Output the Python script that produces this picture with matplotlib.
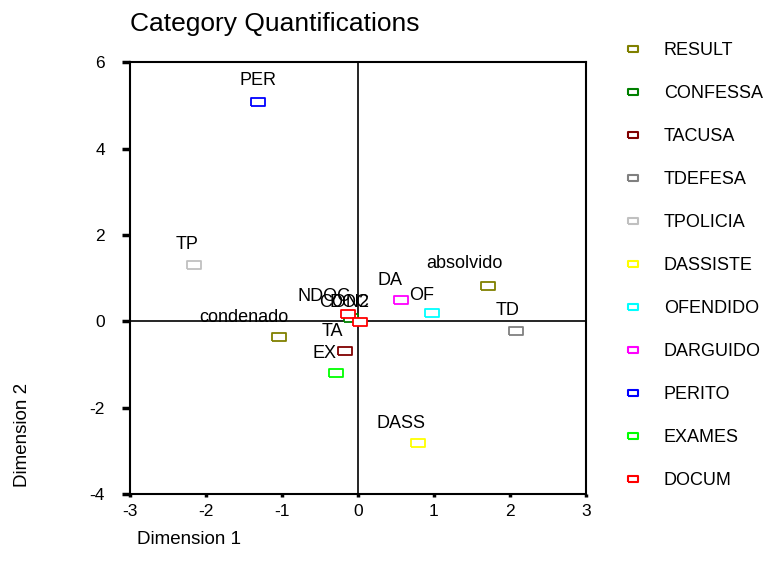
import matplotlib
matplotlib.use("Agg")
import matplotlib.pyplot as plt
from matplotlib.lines import Line2D

plt.rcParams['font.family'] = ['Liberation Sans', 'DejaVu Sans']
plt.rcParams['axes.unicode_minus'] = False

# variables, in legend order, with their colours
variables = ['RESULT', 'CONFESSA', 'TACUSA', 'TDEFESA', 'TPOLICIA', 'DASSISTE',
             'OFENDIDO', 'DARGUIDO', 'PERITO', 'EXAMES', 'DOCUM']
var_colors = ['#808000', '#008000', '#800000', '#808080', '#c0c0c0', '#ffff00',
              '#00ffff', '#ff00ff', '#0000ff', '#00ff00', '#ff0000']

# category quantifications
cat_labels = ['condenado', 'absolvido', 'CON2', 'TA', 'TD', 'TP', 'DASS',
              'OF', 'DA', 'PER', 'EX', 'NDOC', 'DOC']
cat_var = ['RESULT', 'RESULT', 'CONFESSA', 'TACUSA', 'TDEFESA', 'TPOLICIA',
           'DASSISTE', 'OFENDIDO', 'DARGUIDO', 'PERITO', 'EXAMES', 'DOCUM', 'DOCUM']
dim1 = [-1.04, 1.71, -0.09, -0.17, 2.08, -2.16, 0.79, 0.97, 0.57, -1.32, -0.29, -0.13, 0.03]
dim2 = [-0.37, 0.83, 0.09, -0.69, -0.23, 1.30, -2.82, 0.19, 0.49, 5.09, -1.20, 0.16, -0.02]

# label nudges in points (dx, dy)
nudge = {'condenado': (-25, 14), 'absolvido': (-17, 16), 'CON2': (-5, 11),
         'TA': (-9, 14), 'TD': (-6, 15), 'TP': (-5, 15), 'DASS': (-12, 14),
         'OF': (-7, 13), 'DA': (-8, 14), 'PER': (0, 15), 'EX': (-8, 14),
         'NDOC': (-17, 13), 'DOC': (-8, 14)}

# hollow flat rectangle marker
rect = [(-1, -0.55), (1, -0.55), (1, 0.55), (-1, 0.55), (-1, -0.55)]

fig = plt.figure(figsize=(7.69, 5.76), dpi=100)
ax = fig.add_axes([0.169, 0.142, 0.593, 0.750])

ax.axhline(0, color='black', lw=1.2, zorder=1)
ax.axvline(0, color='black', lw=1.2, zorder=1)

handles = []
for var, col in zip(variables, var_colors):
    xs = [x for x, v in zip(dim1, cat_var) if v == var]
    ys = [y for y, v in zip(dim2, cat_var) if v == var]
    ax.plot(xs, ys, linestyle='none', marker=rect, markersize=9.5,
            markerfacecolor='white', markeredgecolor=col, markeredgewidth=1.3, zorder=3)
    handles.append(Line2D([], [], linestyle='none', marker=rect, markersize=7.5,
                          markerfacecolor='white', markeredgecolor=col,
                          markeredgewidth=1.5, label=var))

for lab, x, y in zip(cat_labels, dim1, dim2):
    ax.annotate(lab, (x, y), xytext=nudge[lab], textcoords='offset points',
                ha='center', va='center', fontsize=13, zorder=4)

ax.set_xlim(-3, 3)
ax.set_ylim(-4, 6)
ax.set_xticks([-3, -2, -1, 0, 1, 2, 3])
ax.set_yticks([-4, -2, 0, 2, 4, 6])
for s in ax.spines.values():
    s.set_linewidth(1.5)
ax.tick_params(axis='x', direction='out', length=2, width=2.5, pad=5, labelsize=12.5)
ax.tick_params(axis='y', direction='out', length=6, width=2.5, pad=12, labelsize=12.5)

fig.text(0.169, 0.958, 'Category Quantifications', fontsize=19, ha='left', va='center')
fig.text(0.246, 0.064, 'Dimension 1', fontsize=13.5, ha='center', va='center')
fig.text(0.029, 0.245, 'Dimension 2', fontsize=13.5, ha='center', va='center', rotation=90)

fig.legend(handles=handles, loc='upper left', bbox_to_anchor=(0.802, 0.939),
           frameon=False, fontsize=13, labelspacing=1.44, handlelength=1.0,
           handletextpad=1.2, borderaxespad=0)

fig.savefig('out.png', dpi=100)
